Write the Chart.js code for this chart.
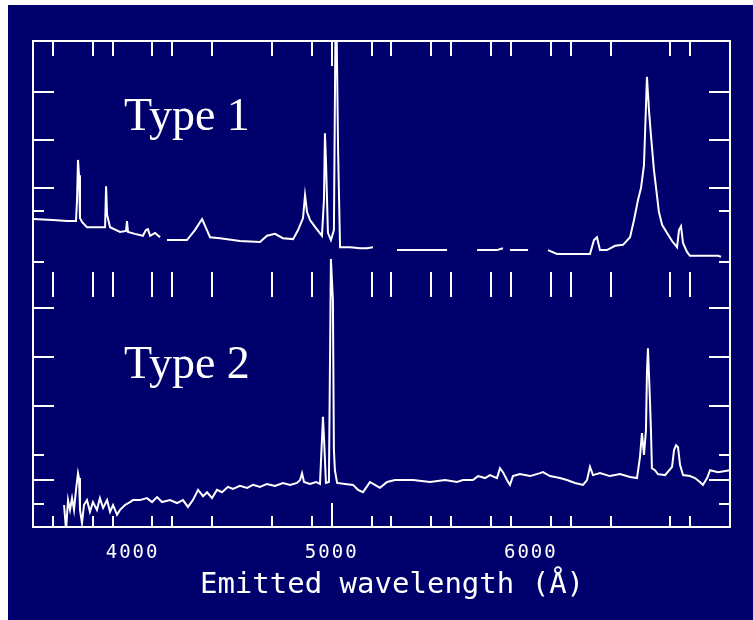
<!DOCTYPE html>
<html>
<head>
<meta charset="utf-8">
<script src="https://cdn.jsdelivr.net/npm/chart.js@4.4.0/dist/chart.umd.min.js"></script>
<style>
  html, body { margin: 0; padding: 0; background: #fff; }
  #wrap { width: 753px; height: 620px; }
</style>
</head>
<body>
<div id="wrap"><canvas id="spec"></canvas></div>
<script>
// Wavelength (Å) and relative flux
const wave1 = [3500, 3600, 3671, 3716, 3721, 3726, 3731, 3736, 3746, 3771, 3836, 3862, 3867, 3872, 3887, 3937, 3967, 3972, 3977, 4012,
  4052, 4067, 4077, 4088, 4113, 4138, 4155, 4173, 4273, 4313, 4349, 4369, 4389, 4439, 4539, 4640, 4675, 4715, 4755, 4806,
  4831, 4856, 4866, 4876, 4891, 4921, 4951, 4961, 4966, 4971, 4981, 4996, 5011, 5021, 5032, 5037, 5042, 5067, 5092, 5142,
  5177, 5207, 5270, 5328, 5478, 5579, 5650, 5730, 5830, 5860, 5878, 5895, 5986, 6040, 6086, 6131, 6297, 6317, 6332, 6347,
  6382, 6423, 6463, 6498, 6518, 6538, 6553, 6568, 6583, 6593, 6603, 6618, 6633, 6643, 6659, 6684, 6709, 6734, 6744, 6754,
  6764, 6784, 6799, 6940, 6955];
const flux1 = [1.34, 1.32, 1.30, 1.30, 1.74, 2.58, 2.26, 1.36, 1.28, 1.17, 1.17, 1.17, 2.03, 1.43, 1.17, 1.07, 1.09, 1.30, 1.07, 1.03,
  0.99, 1.11, 1.13, 0.99, 1.05, 0.96, null, 0.90, 0.90, 1.11, 1.34, 1.15, 0.96, 0.94, 0.88, 0.86, 0.99, 1.03, 0.94, 0.92,
  1.11, 1.36, 1.84, 1.49, 1.32, 1.15, 0.99, 1.74, 3.14, 2.58, 1.05, 0.90, 1.11, 6.5, 2.79, 1.74, 0.75, 0.75, 0.75, 0.73,
  0.73, 0.75, null, 0.69, 0.69, 0.69, null, 0.69, 0.69, 0.73, null, 0.69, 0.69, null, 0.69, 0.61, 0.61, 0.90, 0.96, 0.69,
  0.69, 0.78, 0.80, 0.96, 1.32, 1.74, 1.99, 2.47, 4.32, 3.63, 3.10, 2.37, 1.84, 1.49, 1.22, 1.05, 0.88, 0.75, 1.11, 1.19,
  0.84, 0.65, 0.57, 0.57, 0.55];

const wave2 = [3656, 3666, 3676, 3686, 3696, 3706, 3716, 3726, 3731, 3736, 3746, 3756, 3771, 3786, 3801, 3821, 3836, 3852, 3872, 3887,
  3902, 3922, 3937, 3962, 3987, 4002, 4037, 4072, 4098, 4123, 4148, 4188, 4223, 4253, 4278, 4303, 4329, 4354, 4374, 4399,
  4424, 4449, 4479, 4504, 4539, 4575, 4605, 4640, 4675, 4715, 4755, 4791, 4826, 4841, 4851, 4861, 4891, 4921, 4941, 4951,
  4956, 4961, 4971, 4986, 4996, 5006, 5011, 5016, 5027, 5067, 5107, 5132, 5157, 5172, 5192, 5217, 5242, 5278, 5318, 5408,
  5494, 5569, 5629, 5659, 5709, 5735, 5770, 5795, 5830, 5845, 5860, 5880, 5895, 5910, 5945, 5996, 6046, 6061, 6096, 6146,
  6181, 6222, 6262, 6282, 6297, 6312, 6347, 6397, 6448, 6498, 6533, 6548, 6558, 6568, 6578, 6583, 6588, 6598, 6603, 6608,
  6623, 6638, 6674, 6709, 6719, 6729, 6739, 6749, 6764, 6799, 6824, 6849, 6864, 6885, 6900, 6940, 7000];
const flux2 = [-0.02, -0.53, 0.08, -0.12, 0.12, -0.12, 0.29, 0.63, 0.53, -0.12, -0.39, -0.02, 0.08, -0.16, 0.04, -0.12, 0.12, -0.08, 0.08, -0.16,
  -0.02, -0.22, -0.12, -0.02, 0.04, 0.08, 0.08, 0.12, 0.04, 0.14, 0.04, 0.08, 0.02, 0.08, -0.06, 0.08, 0.29, 0.16, 0.24, 0.12,
  0.29, 0.24, 0.35, 0.31, 0.37, 0.33, 0.39, 0.35, 0.41, 0.37, 0.43, 0.39, 0.43, 0.49, 0.63, 0.45, 0.41, 0.45, 0.41, 1.31,
  1.78, 1.37, 0.43, 0.45, 5.0, 4.16, 1.10, 0.69, 0.43, 0.41, 0.39, 0.29, 0.24, 0.33, 0.45, 0.39, 0.33, 0.45, 0.49, 0.49,
  0.45, 0.49, 0.45, 0.49, 0.49, 0.57, 0.53, 0.59, 0.53, 0.73, 0.65, 0.49, 0.39, 0.57, 0.61, 0.57, 0.63, 0.65, 0.57, 0.53,
  0.49, 0.43, 0.39, 0.49, 0.76, 0.59, 0.63, 0.57, 0.61, 0.55, 0.53, 0.96, 1.45, 1.00, 1.51, 2.69, 3.18, 2.12, 1.51, 0.73,
  0.69, 0.61, 0.59, 0.76, 1.10, 1.20, 1.16, 0.80, 0.59, 0.57, 0.53, 0.45, 0.39, 0.53, 0.69, 0.65, 0.69];

// axis ticks
const xMinor = [3600, 3800, 3900, 4100, 4200, 4400, 4700, 4900, 5200, 5300, 5500, 5600, 5800, 5900, 6100, 6200, 6400, 6700, 6800];
const xMajor = [5000];
const xLabels = [4000, 5000, 6000];
const y1Major = [2, 3, 4];
const y1Minor = [1.5, 0.45];
const y2Major = [0.5, 2, 3, 4];
const y2Minor = [0, 1];

const NAVY = '#00006c';

function pts(w, f) {
  return w.map((x, i) => ({ x: x, y: f[i] }));
}

const framePlugin = {
  id: 'frame',
  beforeDraw(chart) {
    const ctx = chart.ctx;
    ctx.save();
    ctx.fillStyle = NAVY;
    ctx.fillRect(8, 5, chart.width - 8, chart.height - 5);
    ctx.restore();
  },
  afterDraw(chart) {
    const { ctx, chartArea: a, scales } = chart;
    const xs = scales.x;
    ctx.save();
    ctx.strokeStyle = '#fff';
    ctx.fillStyle = '#fff';
    ctx.lineWidth = 2;
    ctx.strokeRect(a.left, a.top, a.right - a.left, a.bottom - a.top);

    const seg = (x0, y0, x1, y1) => {
      ctx.beginPath();
      ctx.moveTo(x0, y0);
      ctx.lineTo(x1, y1);
      ctx.stroke();
    };

    // wavelength ticks: top, bottom and the row between the two spectra
    xMinor.concat(xMajor).forEach(v => {
      const px = Math.round(xs.getPixelForValue(v));
      const major = xMajor.includes(v);
      seg(px, a.top, px, a.top + (major ? 25 : 15));
      seg(px, a.bottom, px, a.bottom - (major ? 24 : 11));
      if (!major) seg(px, a.top + 231, px, a.top + 256);
    });

    // flux ticks on both sides
    const yt = (scale, vals, len) => vals.forEach(v => {
      const py = Math.round(scale.getPixelForValue(v));
      seg(a.left, py, a.left + len, py);
      seg(a.right, py, a.right - len, py);
    });
    yt(scales.y1, y1Major, 21);
    yt(scales.y1, y1Minor, 11);
    yt(scales.y2, y2Major, 21);
    yt(scales.y2, y2Minor, 11);

    // tick labels and axis title
    ctx.textAlign = 'center';
    ctx.textBaseline = 'middle';
    ctx.font = '19px "DejaVu Sans Mono"';
    ctx.letterSpacing = '2px';
    xLabels.forEach(v => ctx.fillText(String(v), xs.getPixelForValue(v), a.bottom + 26));
    ctx.font = '29px "DejaVu Sans Mono"';
    ctx.letterSpacing = '0px';
    ctx.fillText('Emitted wavelength (\u00C5)', 392, a.bottom + 58);

    // panel names
    ctx.textAlign = 'left';
    ctx.textBaseline = 'alphabetic';
    ctx.font = '46px "Liberation Serif"';
    ctx.fillText('Type 1', 124, 130);
    ctx.fillText('Type 2', 124, 378);
    ctx.restore();
  }
};

new Chart(document.getElementById('spec'), {
  type: 'line',
  data: {
    datasets: [
      { label: 'Type 1', data: pts(wave1, flux1), yAxisID: 'y1' },
      { label: 'Type 2', data: pts(wave2, flux2), yAxisID: 'y2' }
    ]
  },
  options: {
    responsive: true,
    maintainAspectRatio: false,
    animation: false,
    spanGaps: false,
    layout: { padding: { left: 33, right: 23, top: 41, bottom: 93 } },
    elements: {
      line: { borderColor: '#fff', borderWidth: 2, tension: 0, fill: false },
      point: { radius: 0 }
    },
    scales: {
      x: { type: 'linear', min: 3500, max: 7000, display: false },
      y1: { type: 'linear', min: -5.115, max: 5.073, display: false },
      y2: { type: 'linear', min: -0.469, max: 9.449, display: false }
    },
    plugins: {
      legend: { display: false },
      tooltip: { enabled: false }
    }
  },
  plugins: [framePlugin]
});
</script>
</body>
</html>
